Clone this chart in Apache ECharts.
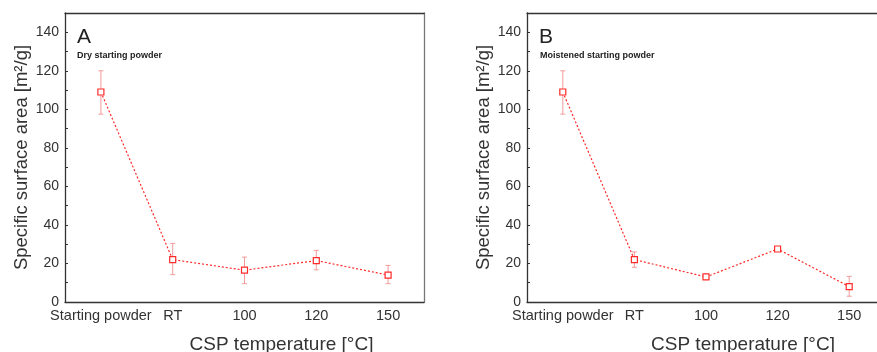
<!DOCTYPE html>
<html><head><meta charset="utf-8">
<script src="https://cdn.jsdelivr.net/npm/echarts@6/dist/echarts.min.js"></script>
<style>html,body{margin:0;padding:0;background:#fff}#c{width:877px;height:352px}</style>
</head><body><div id="c"></div>
<script>
const categories = ['Starting powder', 'RT', '100', '120', '150'];
const yTicks = [0, 20, 40, 60, 80, 100, 120, 140];
const dryMean = [109, 22, 16.5, 21.5, 14];
const dryLow = [97.5, 14.2, 9.5, 16.7, 9.5];
const dryHigh = [120, 30.4, 23.3, 26.8, 19];
const moistMean = [109, 22, 13, 27.5, 8];
const moistLow = [97.5, 18, 12, 26.5, 3];
const moistHigh = [120, 26, 14, 28.5, 13.3];

const FONT = 'Liberation Sans, Arial, sans-serif';
const RED = '#ff2a2a';
const ERR = '#f39a9a';
const AX = '#333';

function xBottom(gi, offsetPad) {
  return {
    type: 'category', gridIndex: gi, data: categories, boundaryGap: true, position: 'bottom',
    axisLine: { onZero: false, lineStyle: { color: AX, width: 1.3 } },
    axisTick: { inside: true, alignWithLabel: true, length: 4, lineStyle: { color: AX } },
    axisLabel: { color: '#333', fontSize: 14.5, fontFamily: FONT, margin: 6, interval: 0, hideOverlap: false },
    name: 'CSP temperature [°C]', nameLocation: 'middle', nameGap: 33,
    nameTextStyle: { color: '#333', fontSize: 19, fontFamily: FONT, verticalAlign: 'top', padding: [0, 0, 0, offsetPad] }
  };
}
function xTop(gi) {
  return {
    type: 'category', gridIndex: gi, data: categories, boundaryGap: true, position: 'top',
    axisLine: { onZero: false, lineStyle: { color: AX, width: 1.3 } },
    axisTick: { inside: true, alignWithLabel: true, length: 4, lineStyle: { color: AX } },
    axisLabel: { show: false }
  };
}
function yLeft(gi) {
  return {
    type: 'value', gridIndex: gi, min: 0, max: 150, interval: 10, position: 'left',
    axisLine: { show: true, onZero: false, lineStyle: { color: AX, width: 1.3 } },
    axisTick: { show: true, inside: true, length: 3, lineStyle: { color: AX } },
    splitLine: { show: false },
    axisLabel: { color: '#333', fontSize: 14, fontFamily: FONT, margin: 6,
      formatter: v => (yTicks.indexOf(v) >= 0 ? String(v) : '') },
    name: 'Specific surface area [m²/g]', nameLocation: 'middle', nameGap: 32,
    nameTextStyle: { color: '#333', fontSize: 18.5, fontFamily: FONT }
  };
}
function yRight(gi) {
  return {
    type: 'value', gridIndex: gi, min: 0, max: 150, position: 'right',
    axisLine: { show: true, onZero: false, lineStyle: { color: '#777', width: 1.3 } },
    axisTick: { show: false }, axisLabel: { show: false }, splitLine: { show: false }
  };
}
function errSeries(xi, yi, low, high) {
  return {
    type: 'custom', xAxisIndex: xi, yAxisIndex: yi, z: 2,
    data: categories.map((c, i) => [i, low[i], high[i]]),
    renderItem: function (params, api) {
      const x = api.value(0);
      const p1 = api.coord([x, api.value(1)]);
      const p2 = api.coord([x, api.value(2)]);
      const hw = 2.5;
      const st = { stroke: ERR, lineWidth: 1 };
      return { type: 'group', children: [
        { type: 'line', shape: { x1: p1[0], y1: p1[1], x2: p2[0], y2: p2[1] }, style: st },
        { type: 'line', shape: { x1: p1[0] - hw, y1: p1[1], x2: p1[0] + hw, y2: p1[1] }, style: st },
        { type: 'line', shape: { x1: p2[0] - hw, y1: p2[1], x2: p2[0] + hw, y2: p2[1] }, style: st }
      ]};
    }
  };
}
function lineSeries(xi, yi, vals) {
  return {
    type: 'line', xAxisIndex: xi, yAxisIndex: yi, z: 3, data: vals,
    symbol: 'rect', symbolSize: 6,
    itemStyle: { color: '#fff', borderColor: RED, borderWidth: 1.2 },
    lineStyle: { color: RED, width: 1.2, type: [2, 2] },
    emphasis: { disabled: true }, animation: false
  };
}

const chart = echarts.init(document.getElementById('c'), null, { renderer: 'canvas' });
chart.setOption({
  animation: false,
  backgroundColor: '#fff',
  grid: [
    { left: 65, right: 453, top: 13, bottom: 50, containLabel: false, outerBoundsMode: 'none' },
    { left: 527, right: -8, top: 13, bottom: 50, containLabel: false, outerBoundsMode: 'none' }
  ],
  xAxis: [xBottom(0, 74), xTop(0), xBottom(1, 74), xTop(1)],
  yAxis: [yLeft(0), yRight(0), yLeft(1), yRight(1)],
  series: [
    errSeries(0, 0, dryLow, dryHigh),
    lineSeries(0, 0, dryMean),
    errSeries(2, 2, moistLow, moistHigh),
    lineSeries(2, 2, moistMean)
  ],
  graphic: [
    { type: 'text', left: 77, top: 27, style: { text: 'A', font: '21px ' + FONT, fill: '#222' } },
    { type: 'text', left: 77, top: 51, style: { text: 'Dry starting powder', font: 'bold 9px ' + FONT, fill: '#222' } },
    { type: 'text', left: 539, top: 27, style: { text: 'B', font: '21px ' + FONT, fill: '#222' } },
    { type: 'text', left: 540, top: 51, style: { text: 'Moistened starting powder', font: 'bold 9px ' + FONT, fill: '#222' } }
  ]
});
</script></body></html>
